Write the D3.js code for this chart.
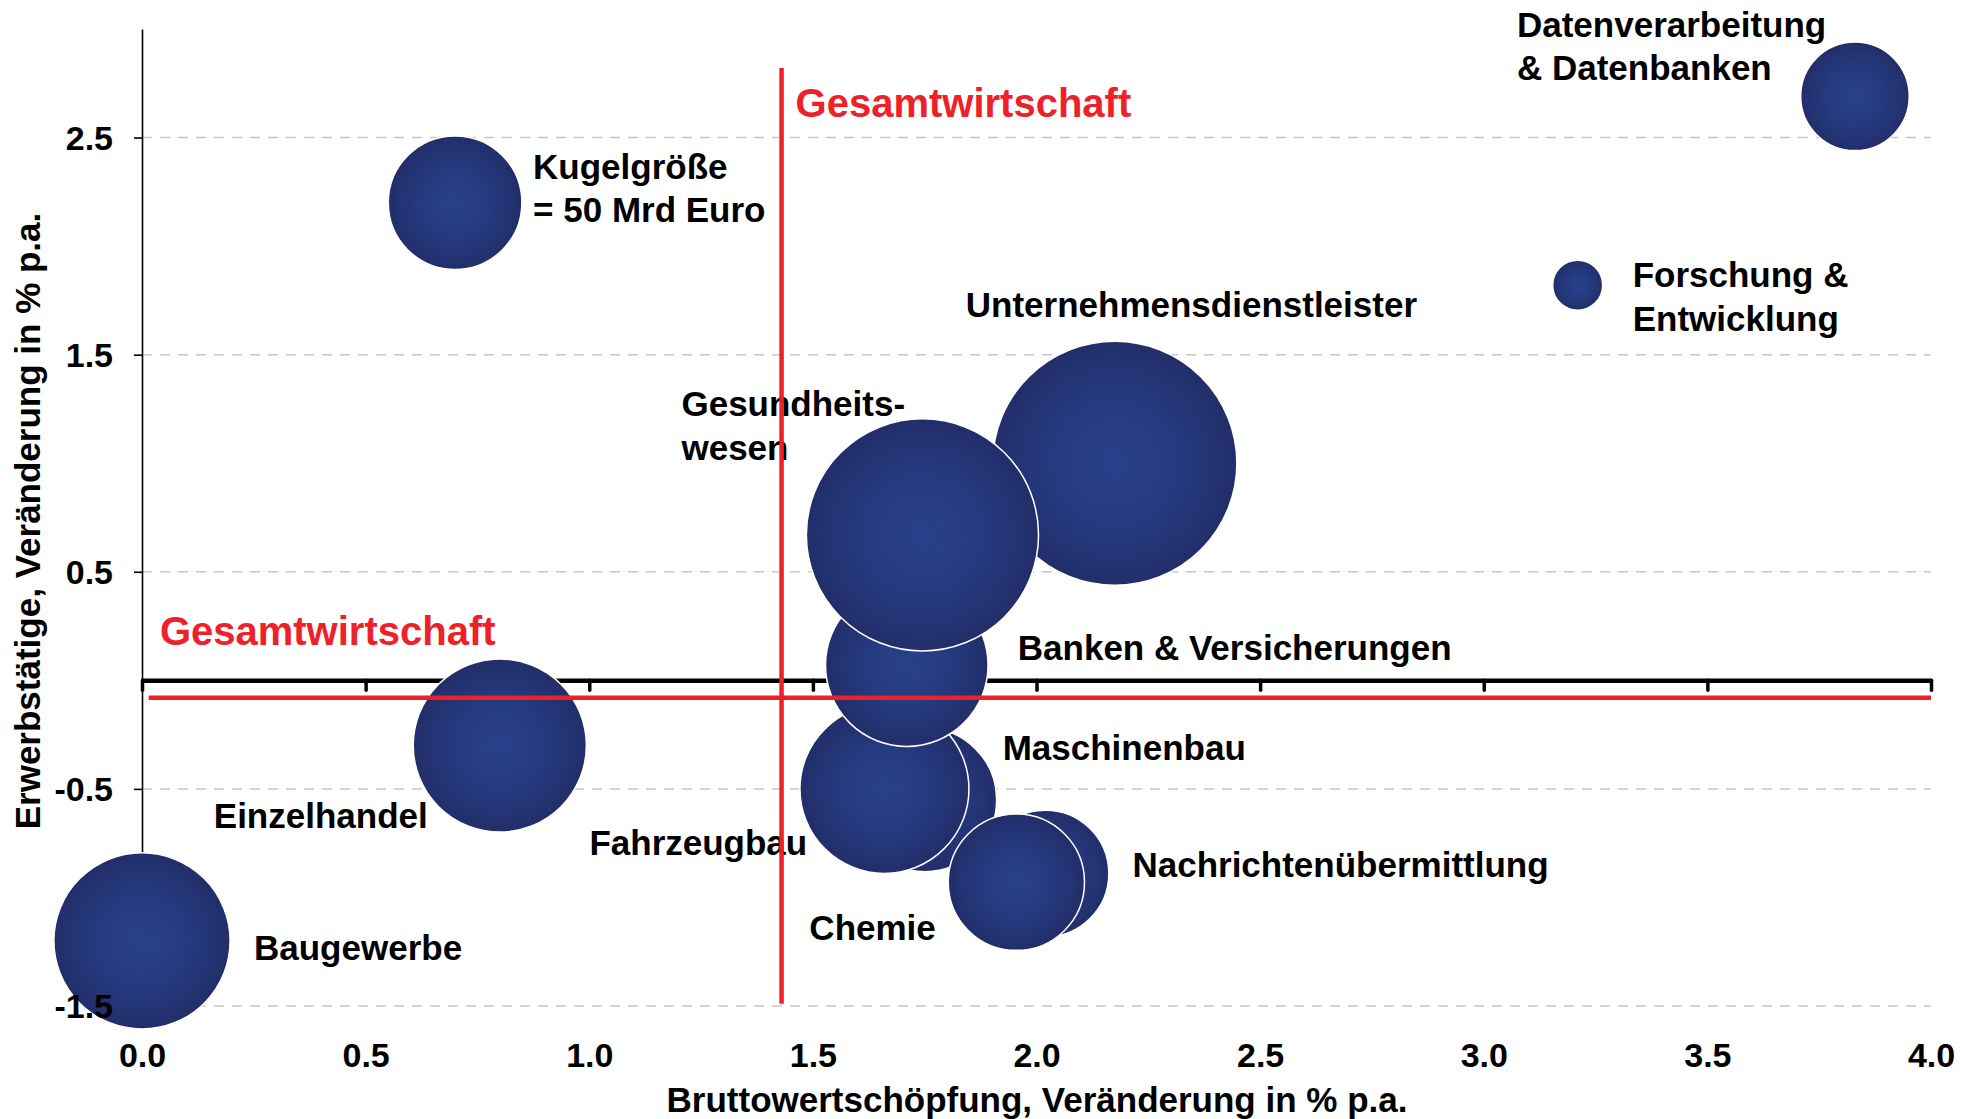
<!DOCTYPE html>
<html>
<head>
<meta charset="utf-8">
<script src="https://cdn.jsdelivr.net/npm/d3@7"></script>
<style>
  body { margin: 0; background: #fff; }
  text { font-family: "Liberation Sans", Arial, sans-serif; font-weight: bold; }
</style>
</head>
<body>
<div id="chartbox"></div>
<script>
// Branchen (Zeichenreihenfolge = Ueberdeckung)
var categories = [
  "Unternehmensdienstleister", "Maschinenbau", "Fahrzeugbau", "Banken & Versicherungen",
  "Gesundheitswesen", "Nachrichtenübermittlung", "Chemie", "Einzelhandel", "Baugewerbe",
  "Datenverarbeitung & Datenbanken", "Forschung & Entwicklung", "Kugelgröße"
];
// Bruttowertschoepfung, Veraenderung in % p.a.
var gvaGrowth = [2.175, 1.75, 1.66, 1.71, 1.745, 2.02, 1.955, 0.80, 0.0, 3.83, 3.21, 0.70];
// Erwerbstaetige, Veraenderung in % p.a.
var jobGrowth = [1.0, -0.55, -0.50, 0.07, 0.67, -0.89, -0.93, -0.30, -1.20, 2.69, 1.82, 2.20];
// Bruttowertschoepfung in Mrd Euro (Kugelgroesse)
var gvaLevel = [167, 58, 80, 74, 151, 45, 52, 84, 87, 33, 7, 50];
var labelLines = [
  ["Unternehmensdienstleister"], ["Maschinenbau"], ["Fahrzeugbau"], ["Banken & Versicherungen"],
  ["Gesundheits-", "wesen"], ["Nachrichtenübermittlung"], ["Chemie"], ["Einzelhandel"], ["Baugewerbe"],
  ["Datenverarbeitung", "& Datenbanken"], ["Forschung &", "Entwicklung"], ["Kugelgröße", "= 50 Mrd Euro"]
];
var xTicks = [0, 0.5, 1.0, 1.5, 2.0, 2.5, 3.0, 3.5, 4.0];
var yTicks = [2.5, 1.5, 0.5, -0.5, -1.5];
var totalGva = 1.43;   // Gesamtwirtschaft
var totalJobs = -0.08;

// label offsets from bubble centre (px)
var labelOffset = [
  [-149, -158], [78, -52], [-295, 54], [111, -17],
  [-241, -131], [87, -9], [-207, 46], [-286, 70], [112, 7],
  [-338, -72], [55, -10], [78, -36]
];

var data = categories.map(function (c, i) {
  return { key: c, x: gvaGrowth[i], y: jobGrowth[i], size: gvaLevel[i], lines: labelLines[i], off: labelOffset[i] };
});

var W = 1975, H = 1119;
var margin = { top: 29, right: 44, bottom: 113, left: 142 };
var width = W - margin.left - margin.right,
    height = H - margin.top - margin.bottom;
var font = '"Liberation Sans", Arial, sans-serif';
var fmt = function (d) { return d.toFixed(1); };

var svg = d3.select('#chartbox').append('svg')
    .attr('width', W)
    .attr('height', H);
var defs = svg.append('defs');
var grad = defs.append('radialGradient').attr('id', 'ball')
    .attr('cx', '50%').attr('cy', '50%').attr('r', '50%');
grad.append('stop').attr('offset', '0%').attr('stop-color', '#27428b');
grad.append('stop').attr('offset', '55%').attr('stop-color', '#25397f');
grad.append('stop').attr('offset', '100%').attr('stop-color', '#222e69');

var g = svg.append('g')
    .attr('transform', 'translate(' + [margin.left, margin.top] + ')');

var x = d3.scaleLinear().domain([0, 4]).range([0, width]);
var y = d3.scaleLinear().domain([-1.5, 3]).range([height, 0]);
var r = d3.scaleSqrt().domain([0, 50]).range([0, 66.8]);

// gridlines
g.append('g').selectAll('line')
    .data(yTicks)
    .enter().append('line')
    .attr('x1', x(0)).attr('x2', x(4))
    .attr('y1', d => y(d)).attr('y2', d => y(d))
    .attr('stroke', '#c8c8c8')
    .attr('stroke-width', 1.5)
    .attr('stroke-dasharray', '10,8');

// y axis line + ticks
var yAxis = g.append('g')
    .call(d3.axisLeft(y).tickValues(yTicks).tickSizeInner(8).tickSizeOuter(0).tickFormat(''));
yAxis.selectAll('path, line').attr('stroke', '#000').attr('stroke-width', 1.6);

// x axis at zero
var xAxis = g.append('g')
    .attr('transform', 'translate(0,' + y(0) + ')')
    .call(d3.axisBottom(x).tickValues(xTicks).tickSizeInner(10).tickSizeOuter(0).tickFormat(''));
xAxis.select('.domain').attr('stroke', '#000').attr('stroke-width', 4.5);
xAxis.selectAll('.tick line').attr('stroke', '#000').attr('stroke-width', 3.5).attr('stroke-linecap', 'round');

// bubbles
g.append('g').selectAll('circle')
    .data(data)
    .enter().append('circle')
    .attr('cx', d => x(d.x))
    .attr('cy', d => y(d.y))
    .attr('r', d => r(d.size))
    .attr('fill', 'url(#ball)')
    .attr('stroke', '#fff')
    .attr('stroke-width', 1.5);

// tick labels
var xLab = g.append('g')
    .attr('transform', 'translate(0,' + height + ')')
    .call(d3.axisBottom(x).tickValues(xTicks).tickSize(0).tickFormat(fmt));
xLab.select('.domain').remove();
xLab.selectAll('text')
    .attr('y', 49).attr('dy', '0.35em')
    .attr('font-size', 34).attr('font-family', font)
    .attr('font-weight', 'bold').attr('fill', '#000');

var yLab = g.append('g')
    .call(d3.axisLeft(y).tickValues(yTicks).tickSize(0).tickPadding(29).tickFormat(fmt));
yLab.select('.domain').remove();
yLab.selectAll('text')
    .attr('dy', '0.35em')
    .attr('font-size', 34).attr('font-family', font)
    .attr('font-weight', 'bold').attr('fill', '#000');

// category labels
var labels = g.append('g').selectAll('text')
    .data(data)
    .enter().append('text')
    .attr('x', d => x(d.x) + d.off[0])
    .attr('y', d => y(d.y) + d.off[1])
    .attr('font-size', 35)
    .attr('fill', '#000');
labels.selectAll('tspan')
    .data(d => d.lines.map(function (l) { return { t: l, x: x(d.x) + d.off[0] }; }))
    .enter().append('tspan')
    .attr('x', d => d.x)
    .attr('dy', (d, i) => i === 0 ? '0.35em' : '43.5')
    .text(d => d.t);

// Gesamtwirtschaft reference lines
g.append('line')
    .attr('x1', x(totalGva)).attr('x2', x(totalGva))
    .attr('y1', y(2.82)).attr('y2', y(-1.49))
    .attr('stroke', '#ee2129').attr('stroke-width', 4.5);
g.append('line')
    .attr('x1', x(0.015)).attr('x2', x(4))
    .attr('y1', y(totalJobs)).attr('y2', y(totalJobs))
    .attr('stroke', '#ee2129').attr('stroke-width', 4.5);

g.append('text')
    .attr('x', x(totalGva) + 14)
    .attr('y', y(2.82) + 35)
    .attr('dy', '0.35em')
    .attr('font-size', 40)
    .attr('fill', '#ee2129')
    .text('Gesamtwirtschaft');
g.append('text')
    .attr('x', x(0.04))
    .attr('y', y(totalJobs) - 67)
    .attr('dy', '0.35em')
    .attr('font-size', 40)
    .attr('fill', '#ee2129')
    .text('Gesamtwirtschaft');

// axis titles
svg.append('text')
    .attr('x', 1037).attr('y', 1100).attr('dy', '0.35em')
    .attr('text-anchor', 'middle')
    .attr('font-size', 35)
    .text('Bruttowertschöpfung, Veränderung in % p.a.');
svg.append('text')
    .attr('transform', 'translate(28,521) rotate(-90)')
    .attr('dy', '0.35em')
    .attr('text-anchor', 'middle')
    .attr('font-size', 35)
    .text('Erwerbstätige, Veränderung in % p.a.');
</script>
</body>
</html>
